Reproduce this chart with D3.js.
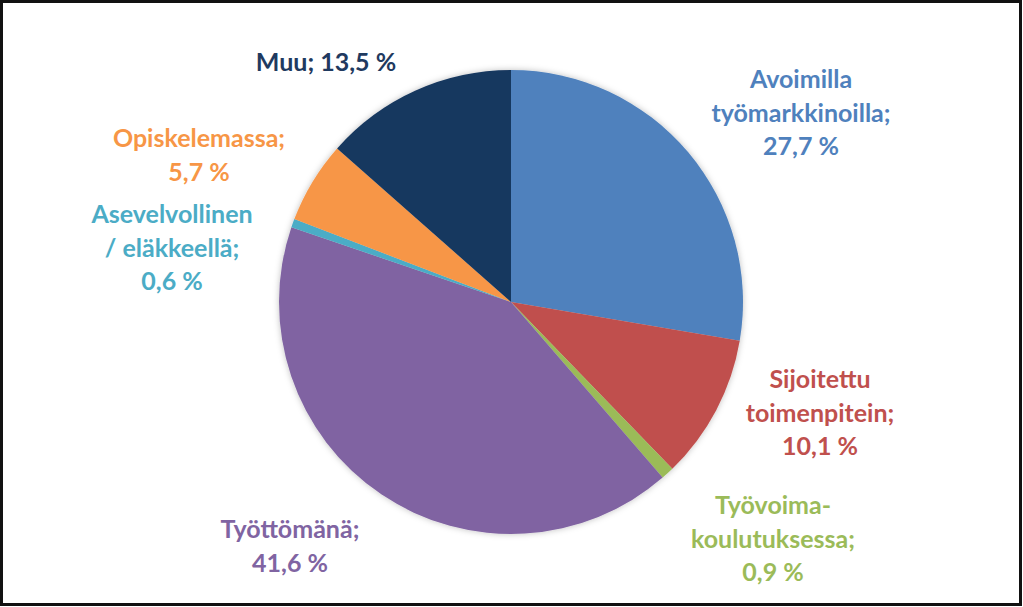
<!DOCTYPE html>
<html>
<head>
<meta charset="utf-8">
<script src="https://cdn.jsdelivr.net/npm/d3@7"></script>
<style>
  html, body { margin: 0; padding: 0; background: #fff; }
  svg { display: block; }
</style>
</head>
<body>
<svg id="chart" width="1023" height="607"></svg>
<script>
// ---- data ----
const categories = ["Avoimilla työmarkkinoilla", "Sijoitettu toimenpitein", "Työvoimakoulutuksessa", "Työttömänä", "Asevelvollinen / eläkkeellä", "Opiskelemassa", "Muu"];
const values = [27.7, 10.1, 0.9, 41.6, 0.6, 5.7, 13.5];
const labelLines = [
  ["Avoimilla", "työmarkkinoilla;", "27,7 %"],
  ["Sijoitettu", "toimenpitein;", "10,1 %"],
  ["Työvoima-", "koulutuksessa;", "0,9 %"],
  ["Työttömänä;", "41,6 %"],
  ["Asevelvollinen", "/ eläkkeellä;", "0,6 %"],
  ["Opiskelemassa;", "5,7 %"],
  ["Muu; 13,5 %"]
];
const colors = ["#4F81BD", "#C0504D", "#9BBB59", "#8064A2", "#4BACC6", "#F79646", "#17375E"];
const labelColors = ["#4F81BD", "#C0504D", "#9BBB59", "#8064A2", "#4BACC6", "#F79646", "#1F3A60"];

// ---- layout ----
const W = 1023, H = 607;
const cx = 511, cy = 302, R = 232;
// label anchor (center x, first baseline y)
const labelAnchors = [[801, 88], [820, 388], [773, 514], [290, 538], [172, 223], [199, 147], [326, 71]];
const lineH = 33.5;

const svg = d3.select("#chart");

const defs = svg.append("defs");
const f = defs.append("filter").attr("id", "shadow").attr("x", "-10%").attr("y", "-10%").attr("width", "120%").attr("height", "120%");
f.append("feDropShadow").attr("dx", 0).attr("dy", 0).attr("stdDeviation", 3).attr("flood-color", "#000").attr("flood-opacity", 0.25);

svg.append("rect").attr("x", 0).attr("y", 0).attr("width", W).attr("height", H).attr("fill", "#fff");
svg.append("rect").attr("x", 1.5).attr("y", 1.5).attr("width", 1019).attr("height", 603)
  .attr("fill", "none").attr("stroke", "#111").attr("stroke-width", 3);

const pie = d3.pie().sort(null).value(d => d)(values);
const arc = d3.arc().innerRadius(0).outerRadius(R);

const g = svg.append("g").attr("transform", `translate(${cx},${cy})`).attr("filter", "url(#shadow)");
g.selectAll("path").data(pie).join("path")
  .attr("d", arc)
  .attr("fill", (d, i) => colors[i]);

const lg = svg.append("g")
  .attr("font-family", "Lato, 'Open Sans', sans-serif")
  .attr("font-weight", 700)
  .attr("font-size", 25)
  .attr("text-anchor", "middle");

labelLines.forEach((lines, i) => {
  const t = lg.append("text").attr("fill", labelColors[i]);
  lines.forEach((ln, j) => {
    t.append("tspan").attr("x", labelAnchors[i][0]).attr("y", labelAnchors[i][1] + j * lineH).text(ln);
  });
});
</script>
</body>
</html>
